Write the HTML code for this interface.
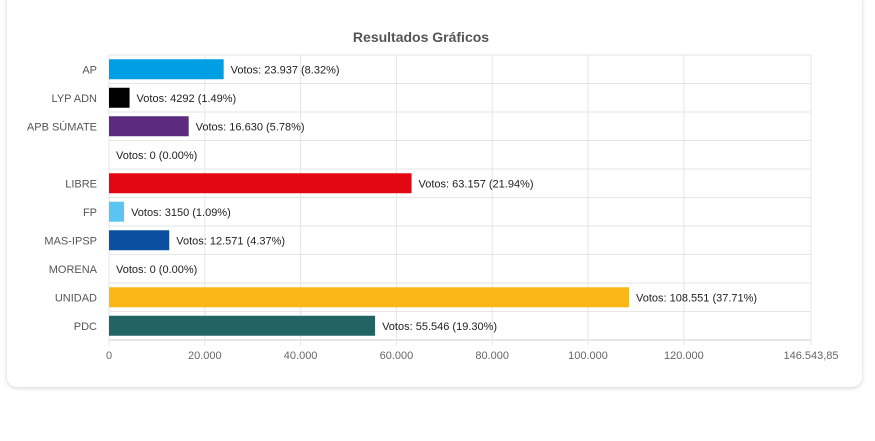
<!DOCTYPE html>
<html><head><meta charset="utf-8"><style>
body{margin:0;background:#fff;font-family:"Liberation Sans",sans-serif}
#card{position:absolute;left:7px;top:-12px;width:855px;height:399px;border-radius:10px;background:#fff;box-shadow:0 1px 4px rgba(0,0,0,0.18)}
svg{position:absolute;left:0;top:0}
</style></head><body>
<div id="card"></div>
<svg id="chart" width="875" height="441">
<text x="421" y="42" text-anchor="middle" font-size="14" font-weight="bold" fill="#555">Resultados Gráficos</text>
</svg>
<script>
const categories=["AP","LYP ADN","APB SÚMATE","","LIBRE","FP","MAS-IPSP","MORENA","UNIDAD","PDC"];
const values=[23937,4292,16630,0,63157,3150,12571,0,108551,55546];
const labels=["23.937 (8.32%)","4292 (1.49%)","16.630 (5.78%)","0 (0.00%)","63.157 (21.94%)","3150 (1.09%)","12.571 (4.37%)","0 (0.00%)","108.551 (37.71%)","55.546 (19.30%)"];
const colors=["#009fe3","#000000","#5c2a7e","#cccccc","#e30613","#5bc5f2","#0a4fa0","#999999","#fbb718","#226466"];
const ticks=[0,20000,40000,60000,80000,100000,120000,146543.85];
const tickLabels=["0","20.000","40.000","60.000","80.000","100.000","120.000","146.543,85"];
const xMax=146543.85;
const X0=109,X1=811,Y0=55,Y1=340;
const NS="http://www.w3.org/2000/svg";
const svg=document.getElementById('chart');
const rowH=(Y1-Y0)/categories.length;
const x=v=>X0+v/xMax*(X1-X0);
const y=i=>Y0+i*rowH;
function mk(t,a){const e=document.createElementNS(NS,t);for(const k in a)e.setAttribute(k,a[k]);svg.appendChild(e);return e;}
for(let i=0;i<=categories.length;i++){
 const l=mk('line',{x1:X0,x2:X1,y1:y(i),y2:y(i),stroke:i==categories.length?'#ccc':'#e6e6e6'});
 
 
}
ticks.forEach((t,j)=>{
 const l=mk('line',{x1:x(t),x2:x(t),y1:Y0,y2:Y1+5,stroke:'#e6e6e6'});
 
 
 const tx=mk('text',{x:x(t),y:Y1+19,'text-anchor':'middle','font-size':11,fill:'#666'});
 tx.textContent=tickLabels[j];
 
 
});
categories.forEach((c,i)=>{
 const cy=y(i)+rowH/2;
 const t=mk('text',{x:97,y:cy+4,'text-anchor':'end','font-size':11,fill:'#555'});
 t.textContent=c;
 
 
 const w=x(values[i])-X0;
 if(values[i]>0){
  const r=mk('rect',{x:X0,y:cy-10,width:w,height:20,fill:colors[i]});
  
  
 }
 const v=mk('text',{x:X0+w+7,y:cy+4,'font-size':11,fill:'#222'});
 v.textContent='Votos: '+labels[i];
 
 
});
</script>
</body></html>
